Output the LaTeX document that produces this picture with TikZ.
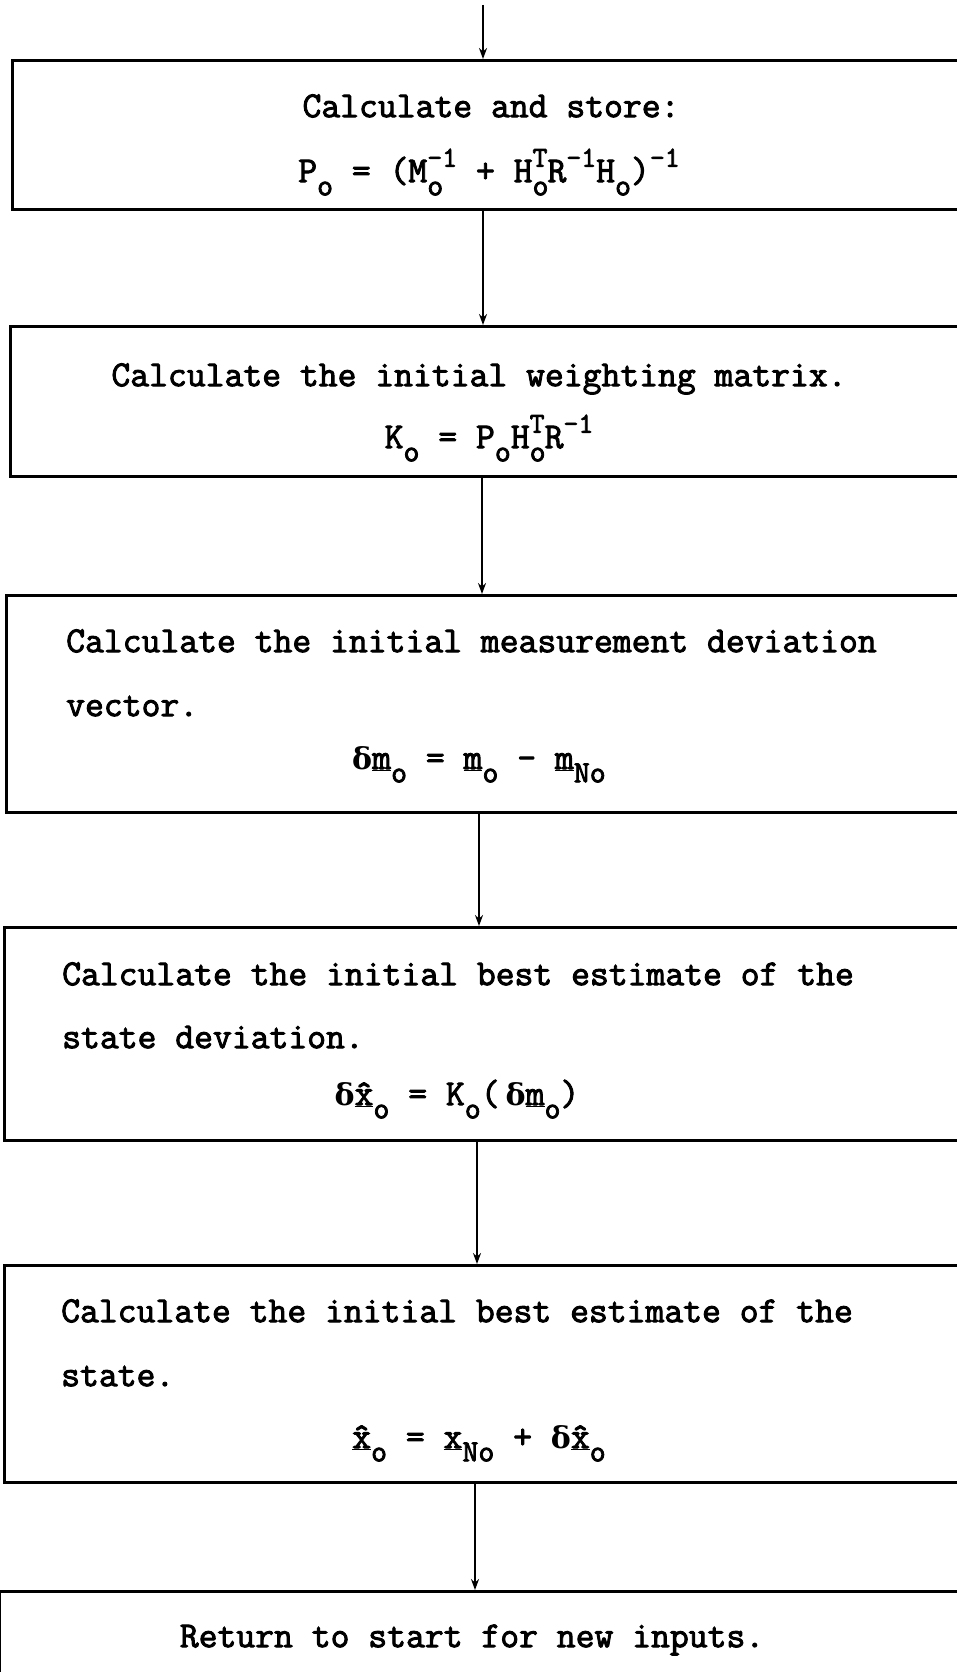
\documentclass[tikz,border=0pt]{standalone}
\usepackage{fontspec}
\newfontfamily\tw{Latin Modern Mono}[AutoFakeBold=2.5]
\newfontfamily\grk{DejaVu Serif}
\usetikzlibrary{arrows.meta}
\newcommand{\lo}[1]{\raisebox{-0.36em}{\fontsize{31}{31}\selectfont #1}}
\newcommand{\hi}[1]{\raisebox{0.42em}{\fontsize{29}{29}\selectfont #1}}
\newcommand{\uvec}[1]{\underline{#1}}
\newcommand{\dlt}{{\grk\bfseries\fontsize{30}{30}\selectfont δ}}
\newcommand{\hatx}{\underline{\^x}}
\tikzset{
  box/.style={draw, line width=2.8pt, rectangle, anchor=north west, inner sep=0pt},
  arr/.style={line width=2.5pt, -{Stealth[length=11pt,width=8pt]}},
  txt/.style={font=\tw\bfseries\fontsize{36.6}{36.6}\selectfont, inner sep=0pt},
}
\begin{document}
\begin{tikzpicture}[x=1pt,y=-1pt]
\useasboundingbox (0,0) rectangle (957,1672);
\clip (0,0) rectangle (957,1672);
\node[box, minimum width=970pt, minimum height=149pt] (b1) at (11,59) {};
\node[box, minimum width=970pt, minimum height=150pt] (b2) at (9,325) {};
\node[box, minimum width=970pt, minimum height=217pt] (b3) at (5,594) {};
\node[box, minimum width=970pt, minimum height=213pt] (b4) at (3,926) {};
\node[box, minimum width=970pt, minimum height=217pt] (b5) at (3,1264) {};
\node[box, minimum width=980pt, minimum height=120pt] (b6) at (-2,1590) {};
\coordinate (start) at (483,5);
% texts
\node[txt, anchor=mid] (t1) at (491,115) {Calculate and store:};
\node[txt, anchor=mid] (f1) at (489,180) {P\lo{o} = (M\rlap{\lo{o}}\hi{-1} + H\rlap{\lo{o}}\hi{T}R\hi{-1}H\lo{o})\hi{-1}};
\node[txt, anchor=mid] (t2) at (479,384) {Calculate the initial weighting matrix.};
\node[txt, anchor=mid] (f2) at (489,446) {K\lo{o} = P\lo{o}H\rlap{\lo{o}}\hi{T}R\hi{-1}};
\node[txt, anchor=mid west] (t3a) at (66,650) {Calculate the initial measurement deviation};
\node[txt, anchor=mid west] (t3b) at (66,714) {vector.};
\node[txt, anchor=mid] (f3) at (479,767) {\dlt\uvec{m}\lo{o} = \uvec{m}\lo{o} - \uvec{m}\lo{No}};
\node[txt, anchor=mid west] (t4a) at (62,983) {Calculate the initial best estimate of the};
\node[txt, anchor=mid west] (t4b) at (62,1046) {state deviation.};
\node[txt, anchor=mid] (f4) at (457,1103) {\dlt\hatx\lo{o} = K\lo{o}(\,\dlt\uvec{m}\lo{o})};
\node[txt, anchor=mid west] (t5a) at (61,1320) {Calculate the initial best estimate of the};
\node[txt, anchor=mid west] (t5b) at (61,1384) {state.};
\node[txt, anchor=mid] (f5) at (479,1446) {\hatx\lo{o} = \uvec{x}\lo{No} + \dlt\hatx\lo{o}};
\node[txt, anchor=mid] (t6) at (472,1645) {Return to start for new inputs.};
% arrows
\draw[arr] (start) -- (start |- b1.north);
\draw[arr] (b1.south -| 483,0) -- (b2.north -| 483,0);
\draw[arr] (b2.south -| 482,0) -- (b3.north -| 482,0);
\draw[arr] (b3.south -| 479,0) -- (b4.north -| 479,0);
\draw[arr] (b4.south -| 477,0) -- (b5.north -| 477,0);
\draw[arr] (b5.south -| 475,0) -- (b6.north -| 475,0);
\end{tikzpicture}
\end{document}
